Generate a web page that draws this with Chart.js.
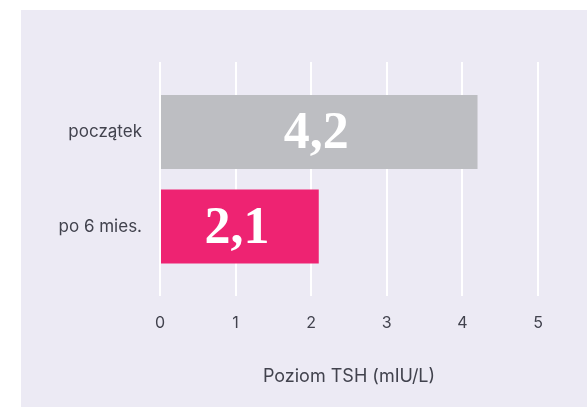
<!DOCTYPE html>
<html>
<head>
<meta charset="utf-8">
<script src="https://cdn.jsdelivr.net/npm/chart.js@4"></script>
<style>
  html, body { margin: 0; padding: 0; background: #fff; }
  canvas { display: block; }
</style>
</head>
<body>
<canvas id="tsh-chart" width="587" height="407"></canvas>
<script>
// TSH level before / after 6 months
var categories = ["początek", "po 6 mies."];
var tshValues = [4.2, 2.1];
var barColors = ["#bdbec2", "#ee2372"];
var xTicks = [0, 1, 2, 3, 4, 5];
var axisTitle = "Poziom TSH (mIU/L)";

var textColor = "#41424d";

// lavender panel behind the plot
var panelBg = {
    id: "panelBg",
    beforeDraw: function (chart) {
        var c = chart.ctx;
        c.save();
        c.fillStyle = "#eceaf4";
        c.fillRect(21, 10, chart.width - 21, chart.height - 10);
        c.restore();
    }
};

// big white value inside each bar, decimal comma
var barValues = {
    id: "barValues",
    afterDatasetsDraw: function (chart) {
        var c = chart.ctx;
        var meta = chart.getDatasetMeta(0);
        c.save();
        c.fillStyle = "#ffffff";
        c.font = "bold 52px 'Liberation Serif', serif";
        c.textAlign = "center";
        c.textBaseline = "middle";
        meta.data.forEach(function (bar, i) {
            var txt = tshValues[i].toFixed(1).replace(".", ",");
            c.fillText(txt, (bar.base + bar.x) / 2 - 3, bar.y + 3);
        });
        c.restore();
    }
};

var ctx = document.getElementById("tsh-chart").getContext("2d");

var data = {
    datasets: [{
        data: tshValues.map(function (v, i) { return {x: v, y: i}; }),
        backgroundColor: barColors,
        borderWidth: 0,
        categoryPercentage: 1,
        barPercentage: 0.783
    }]
};

var options = {
    indexAxis: "y",
    responsive: false,
    animation: false,
    layout: {
        padding: {left: 21, right: 49, top: 62, bottom: 0}
    },
    plugins: {
        legend: {display: false},
        tooltip: {enabled: false}
    },
    scales: {
        x: {
            type: "linear",
            min: 0,
            max: 5,
            afterBuildTicks: function (scale) {
                scale.ticks = xTicks.map(function (v) { return {value: v}; });
            },
            afterFit: function (scale) { scale.height = 111; },
            grid: {color: "#ffffff", lineWidth: 2, drawTicks: false},
            border: {display: false},
            ticks: {
                color: textColor,
                padding: 18,
                font: {family: "Inter", size: 16}
            },
            title: {
                display: true,
                text: axisTitle,
                color: textColor,
                font: {family: "Inter", size: 18},
                padding: {top: 0, bottom: 20}
            }
        },
        y: {
            type: "linear",
            reverse: true,
            offset: false,
            min: -0.741,
            max: 1.735,
            afterBuildTicks: function (scale) {
                scale.ticks = categories.map(function (c, i) { return {value: i}; });
            },
            afterFit: function (scale) { scale.width = 139; },
            grid: {display: false, drawTicks: false},
            border: {display: false},
            ticks: {
                color: textColor,
                padding: 18,
                font: {family: "Inter", size: 17},
                callback: function (v) { return categories[v]; }
            }
        }
    }
};

new Chart(ctx, {
    type: "bar",
    data: data,
    options: options,
    plugins: [panelBg, barValues]
});
</script>
</body>
</html>
